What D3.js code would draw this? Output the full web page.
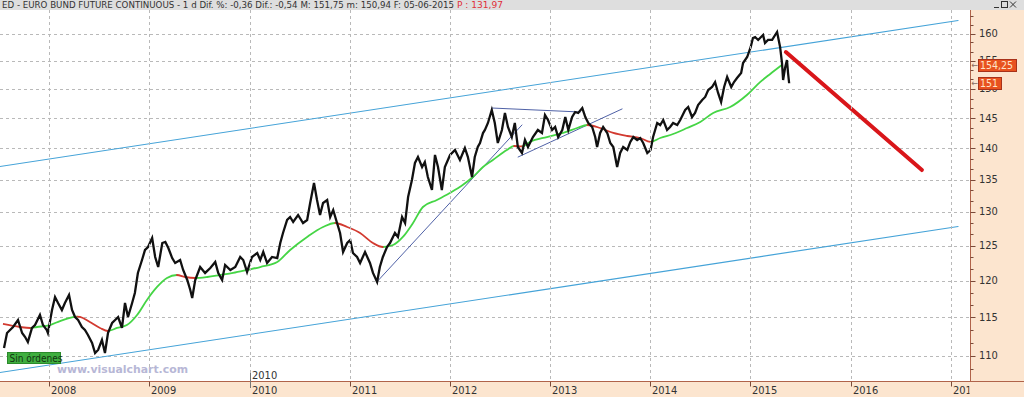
<!DOCTYPE html>
<html>
<head>
<meta charset="utf-8">
<script src="https://cdn.jsdelivr.net/npm/d3@7"></script>
<style>
  body { margin: 0; background: #fff; overflow: hidden; }
  svg { display: block; }
  text { font-family: "Liberation Sans Narrow", "DejaVu Sans Condensed", "Arial Narrow", sans-serif; }
</style>
</head>
<body>
<svg></svg>
<script>
// Daily close of the Bund future
const priceData = [
  ["2007-07-21",110.97],["2007-08-01",112.92],["2007-08-12",113.31],["2007-08-23",113.71],["2007-09-10",114.64],
  ["2007-09-25",112.92],["2007-10-06",112.39],["2007-10-16",111.74],["2007-10-31",113.58],["2007-11-11",113.97],
  ["2007-11-29",115.31],["2007-12-10",113.97],["2007-12-24",113.31],["2007-12-28",112.92],
  ["2008-01-12",115.98],["2008-01-23",117.75],["2008-02-03",116.93],["2008-02-17",115.98],["2008-02-28",116.93],
  ["2008-03-14",118.02],["2008-03-25",115.98],["2008-04-05",115.04],["2008-04-16",114.64],["2008-04-30",113.71],
  ["2008-05-11",113.31],["2008-05-22",112.66],["2008-06-06",111.61],["2008-06-17",110.32],["2008-06-28",110.71],
  ["2008-07-12",112.00],["2008-07-23",110.32],["2008-08-03",112.92],["2008-08-18",114.24],["2008-08-29",114.64],
  ["2008-09-09",115.04],["2008-09-23",113.58],["2008-10-04",116.93],["2008-10-15",115.04],["2008-10-30",116.93],
  ["2008-11-09",118.30],["2008-11-20",121.09],["2008-12-05",122.93],["2008-12-16",124.37],["2008-12-27",124.80],
  ["2009-01-11",126.12],["2009-01-22",123.36],["2009-02-02",121.93],["2009-02-17",125.38],["2009-02-28",125.53],
  ["2009-03-11",124.66],["2009-03-25",123.21],["2009-04-05",122.50],["2009-04-23",122.93],["2009-05-04",121.51],
  ["2009-05-19",120.10],["2009-05-30",118.71],["2009-06-06",117.61],["2009-06-17",120.10],["2009-07-05",121.93],
  ["2009-07-23",121.09],["2009-08-11",121.79],["2009-08-29",122.64],["2009-09-09",121.09],["2009-09-23",120.10],
  ["2009-10-04",122.22],["2009-10-23",121.51],["2009-11-10",121.93],["2009-11-28",123.36],["2009-12-09",122.93],
  ["2009-12-23",121.23],
  ["2010-01-10",123.36],["2010-01-29",123.94],["2010-02-09",122.93],["2010-02-20",124.08],["2010-03-06",122.50],
  ["2010-03-24",123.36],["2010-04-12",123.21],["2010-04-23",125.38],["2010-05-03",126.86],["2010-05-18",128.79],
  ["2010-05-29",129.24],["2010-06-09",128.49],["2010-06-27",129.54],["2010-07-15",128.34],["2010-07-30",128.79],
  ["2010-08-10",131.36],["2010-08-24",134.45],["2010-09-04",131.82],["2010-09-15",129.54],["2010-09-26",131.36],
  ["2010-10-11",131.82],["2010-10-22",129.24],["2010-11-02",130.29],["2010-11-16",128.34],["2010-11-27",126.86],
  ["2010-12-08",124.08],["2010-12-23",125.38],
  ["2011-01-03",125.82],["2011-01-13",123.94],["2011-01-28",123.36],["2011-02-08",122.50],["2011-02-26",124.08],
  ["2011-03-16",122.50],["2011-03-27",121.09],["2011-04-11",119.82],["2011-04-21",121.93],["2011-05-02",123.36],
  ["2011-05-17",124.80],["2011-05-28",125.38],["2011-06-15",126.86],["2011-06-26",126.27],["2011-07-11",129.24],
  ["2011-07-22",128.34],["2011-08-02",132.28],["2011-08-16",134.92],["2011-08-27",137.62],["2011-09-07",138.58],
  ["2011-09-22",136.98],["2011-10-02",137.78],["2011-10-13",135.39],["2011-10-28",133.36],["2011-11-08",138.91],
  ["2011-11-19",136.98],["2011-12-03",133.36],["2011-12-14",136.98],
  ["2012-01-02",138.91],["2012-01-20",139.72],["2012-02-07",138.10],["2012-02-25",140.04],["2012-03-07",138.58],
  ["2012-03-22",135.39],["2012-04-01",138.58],["2012-04-12",140.21],["2012-04-20",140.86],["2012-05-01",142.50],
  ["2012-05-08",143.01],["2012-05-19",144.18],["2012-06-02",146.37],["2012-06-13",144.18],["2012-06-24",140.86],
  ["2012-07-09",143.01],["2012-07-20",145.86],["2012-07-31",143.51],["2012-08-14",141.84],["2012-08-25",144.18],
  ["2012-09-05",140.21],["2012-09-20",139.23],["2012-10-01",141.35],["2012-10-12",140.21],["2012-10-30",141.84],
  ["2012-11-17",143.01],["2012-12-02",142.51],["2012-12-13",145.52],["2012-12-24",144.68],
  ["2013-01-08",143.01],["2013-01-19",143.51],["2013-01-30",141.84],["2013-02-14",143.01],["2013-02-25",145.18],
  ["2013-03-08",143.01],["2013-03-22",145.18],["2013-04-02",146.03],["2013-04-13",145.86],["2013-04-28",146.71],
  ["2013-05-09",145.18],["2013-05-20",144.18],["2013-06-03",143.51],["2013-06-14",141.84],["2013-06-21",140.21],
  ["2013-07-02",142.51],["2013-07-13",143.51],["2013-07-28",142.51],["2013-08-08",140.86],["2013-08-19",140.21],
  ["2013-09-02",136.98],["2013-09-13",139.23],["2013-09-24",140.21],["2013-10-09",139.72],["2013-10-20",141.03],
  ["2013-10-31",141.84],["2013-11-14",141.35],["2013-11-25",141.68],["2013-12-06",140.86],["2013-12-21",139.23],
  ["2014-01-02",139.72],["2014-01-11",141.84],["2014-01-26",144.18],["2014-02-06",143.84],["2014-02-17",144.68],
  ["2014-03-03",143.01],["2014-03-14",143.51],["2014-03-25",144.18],["2014-04-09",143.84],["2014-04-20",144.68],
  ["2014-05-08",146.37],["2014-05-19",146.88],["2014-06-02",145.18],["2014-06-13",145.86],["2014-06-24",147.23],
  ["2014-07-09",148.09],["2014-07-20",148.61],["2014-07-31",149.82],["2014-08-14",150.34],["2014-08-25",151.21],
  ["2014-09-05",149.30],["2014-09-16",147.75],["2014-09-27",150.34],["2014-10-08",152.10],["2014-10-23",150.34],
  ["2014-11-02",151.21],["2014-11-13",151.92],["2014-11-28",152.81],["2014-12-05",154.60],["2014-12-20",155.68],
  ["2015-01-02",157.51],["2015-01-10",159.17],["2015-01-18",159.35],["2015-01-29",158.80],["2015-02-05",159.17],
  ["2015-02-16",159.72],["2015-02-23",158.24],["2015-03-06",158.80],["2015-03-21",158.80],["2015-04-01",159.72],
  ["2015-04-08",160.28],["2015-04-19",157.51],["2015-04-26",154.60],["2015-04-30",151.57],["2015-05-07",153.71],
  ["2015-05-14",155.14],["2015-05-18",152.81],["2015-05-22",151.00]
];

// Moving average (green while rising, red while falling)
const avgData = [
  ["2007-07-17",114.11],["2007-09-17",113.71],["2007-10-24",113.58],["2007-11-18",113.71],["2008-01-05",113.97],
  ["2008-02-10",114.50],["2008-03-25",115.00],["2008-04-12",115.10],["2008-04-23",115.05],["2008-05-29",114.37],
  ["2008-07-05",113.58],["2008-08-03",113.18],["2008-09-05",113.58],["2008-10-11",113.97],["2008-11-17",115.31],
  ["2008-12-23",117.34],["2009-01-29",119.13],["2009-03-06",120.38],["2009-04-11",120.80],["2009-05-11",120.52],
  ["2009-06-17",120.38],["2009-07-31",120.52],["2009-09-16",120.80],["2009-11-02",121.09],["2009-12-23",121.51],
  ["2010-02-09",121.93],["2010-04-12",122.64],["2010-05-29",124.37],["2010-07-30",126.27],["2010-09-26",127.74],
  ["2010-11-09",128.34],["2010-12-23",127.74],["2011-02-08",126.86],["2011-03-27",125.38],["2011-05-02",124.80],
  ["2011-06-08",125.09],["2011-07-14",126.27],["2011-08-20",128.34],["2011-09-25",130.75],["2011-11-15",131.82],
  ["2012-01-01",132.90],["2012-02-17",134.14],["2012-03-25",135.39],["2012-05-01",136.98],["2012-06-06",138.10],
  ["2012-07-27",139.72],["2012-08-22",140.37],["2012-09-20",140.29],["2012-10-19",141.03],["2012-12-20",141.84],
  ["2013-02-17",142.51],["2013-04-09",143.34],["2013-05-16",143.84],["2013-07-02",143.34],["2013-08-19",142.51],
  ["2013-10-09",142.01],["2013-11-25",141.68],["2014-01-01",141.03],["2014-02-06",141.68],["2014-03-25",142.34],
  ["2014-05-15",143.34],["2014-07-02",144.35],["2014-08-18",145.86],["2014-10-19",146.88],["2014-12-20",149.00],
  ["2015-02-05",151.20],["2015-03-13",152.60],["2015-04-26",154.25]
];

// Drawn trend lines: [start date, start price, end date, end price]
const channelLines = [
  ["2007-07-05",137.06,"2017-01-27",162.44],
  ["2007-07-05",107.84,"2017-01-27",127.81]
];
const trendLines = [
  ["2011-04-10",119.83,"2012-09-20",143.84],
  ["2012-06-03",146.71,"2013-04-20",146.03],
  ["2012-09-06",138.58,"2013-09-20",146.55]
];
const forecastLine = ["2015-05-10",156.59,"2016-09-17",136.5];

// Axis values
const priceTicks = [110, 115, 120, 125, 130, 135, 140, 145, 150, 155, 160];
const yearTicks = [2008, 2009, 2010, 2011, 2012, 2013, 2014, 2015, 2016, 2017];
const priceTags = [{ value: 154.25, label: "154,25" }, { value: 151, label: "151" }];

const headerText = "ED - EURO BUND FUTURE CONTINUOUS -  1 d Dif. %: -0,36 Dif.: -0,54 M: 151,75 m: 150,94 F: 05-06-2015";
const headerPrice = "P : 131,97";

// Layout
const width = 1024, height = 397;
const plotRight = 970.5, plotTop = 10, plotBottom = 381.5;

const parse = d3.timeParse("%Y-%m-%d");
const prices = priceData.map(d => ({ date: parse(d[0]), value: d[1] }));
const avg = avgData.map(d => ({ date: parse(d[0]), value: d[1] }));

const x = d3.scaleTime()
    .domain([new Date(2008, 0, 1), new Date(2017, 0, 1)])
    .range([49, 951]);
const y = d3.scaleLog()
    .domain([110, 160])
    .range([355.5, 33.5]);

const svg = d3.select("svg")
    .attr("width", width)
    .attr("height", height);

const defs = svg.append("defs");
defs.append("clipPath").attr("id", "plot-clip")
    .append("rect")
    .attr("x", 0).attr("y", plotTop)
    .attr("width", plotRight).attr("height", plotBottom - plotTop);

// Backgrounds: header strip, right and bottom axis panels
svg.append("rect").attr("width", width).attr("height", height).attr("fill", "#fff");
svg.append("rect").attr("x", 0).attr("y", 0).attr("width", width).attr("height", plotTop).attr("fill", "#dedede");
svg.append("rect").attr("x", plotRight).attr("y", plotTop).attr("width", width - plotRight).attr("height", height - plotTop).attr("fill", "#fce5cf");
svg.append("rect").attr("x", 0).attr("y", plotBottom).attr("width", width).attr("height", height - plotBottom).attr("fill", "#fce5cf");

const plot = svg.append("g").attr("clip-path", "url(#plot-clip)");

// Grid lines
plot.selectAll(".hgrid")
    .data(priceTicks)
    .enter().append("line")
    .attr("x1", 0).attr("x2", plotRight)
    .attr("y1", d => Math.round(y(d)) + 0.5).attr("y2", d => Math.round(y(d)) + 0.5)
    .attr("stroke", "#b9b9b9").attr("stroke-dasharray", "3,3");

svg.selectAll(".vgrid")
    .data(yearTicks)
    .enter().append("line")
    .attr("x1", d => Math.round(x(new Date(d, 0, 1))) + 0.5)
    .attr("x2", d => Math.round(x(new Date(d, 0, 1))) + 0.5)
    .attr("y1", plotTop).attr("y2", plotBottom)
    .attr("stroke", "#b9b9b9").attr("stroke-dasharray", "3,3");

// Straight drawn lines between two (date, price) points
function drawSegment(d, color, w) {
    plot.append("line")
        .attr("x1", x(parse(d[0]))).attr("y1", y(d[1]))
        .attr("x2", x(parse(d[2]))).attr("y2", y(d[3]))
        .attr("stroke", color).attr("stroke-width", w)
        .attr("stroke-linecap", "round");
}
channelLines.forEach(d => drawSegment(d, "#45a3d8", 1.1));
trendLines.forEach(d => drawSegment(d, "#3b4f9c", 0.9));

// Moving average, coloured by direction using clip strips
const rising = [], falling = [];
for (let i = 1; i < avg.length; i++) {
    const seg = [x(avg[i - 1].date), x(avg[i].date)];
    (avg[i].value < avg[i - 1].value ? falling : rising).push(seg);
}
function addStripClip(id, segs) {
    const cp = defs.append("clipPath").attr("id", id);
    segs.forEach(s => cp.append("rect")
        .attr("x", s[0] - 0.5).attr("y", 0)
        .attr("width", s[1] - s[0] + 1).attr("height", height));
}
addStripClip("rise-clip", rising);
addStripClip("fall-clip", falling);

const avgLine = d3.line()
    .x(d => x(d.date))
    .y(d => y(d.value))
    .curve(d3.curveMonotoneX);

plot.append("g").attr("clip-path", "url(#rise-clip)")
    .append("path").datum(avg)
    .attr("d", avgLine).attr("fill", "none")
    .attr("stroke", "#45d545").attr("stroke-width", 1.8);
plot.append("g").attr("clip-path", "url(#fall-clip)")
    .append("path").datum(avg)
    .attr("d", avgLine).attr("fill", "none")
    .attr("stroke", "#d23a30").attr("stroke-width", 1.8);

// Price line
const priceLine = d3.line()
    .x(d => x(d.date))
    .y(d => y(d.value));

plot.append("path").datum(prices)
    .attr("d", priceLine).attr("fill", "none")
    .attr("stroke", "#111").attr("stroke-width", 2.3)
    .attr("stroke-linejoin", "miter");

// Red forecast stroke
drawSegment(forecastLine, "#d9161a", 4);

// Status box and watermark
svg.append("rect")
    .attr("x", 7.5).attr("y", 352.5).attr("width", 53).attr("height", 11)
    .attr("fill", "#3fae3f").attr("stroke", "#2b8a2b");
svg.append("text")
    .attr("x", 9.5).attr("y", 361.5)
    .attr("font-size", 10).attr("fill", "#123312")
    .text("Sin órdenes");
svg.append("text")
    .attr("x", 57).attr("y", 373)
    .attr("font-family", "DejaVu Sans, sans-serif")
    .attr("font-weight", "bold").attr("font-size", 10.5)
    .attr("textLength", 131).attr("lengthAdjust", "spacingAndGlyphs")
    .attr("fill", "#b7b7d6")
    .text("www.visualchart.com");

// Axis lines
svg.append("line")
    .attr("x1", 0).attr("x2", width).attr("y1", plotBottom).attr("y2", plotBottom)
    .attr("stroke", "#b0634a");
svg.append("line")
    .attr("x1", plotRight).attr("x2", plotRight).attr("y1", plotTop).attr("y2", plotBottom)
    .attr("stroke", "#b0634a");

// Right price axis: minor ticks, major ticks, labels
const minorTicks = [];
for (let i = 0; i < priceTicks.length; i++) {
    const a = priceTicks[i], b = priceTicks[i + 1] || a + 5;
    minorTicks.push(a + (b - a) / 3, a + 2 * (b - a) / 3);
}
minorTicks.push(110 - 5 / 3, 110 - 10 / 3);

const yAxis = svg.append("g");
yAxis.selectAll(".minor")
    .data(minorTicks.filter(v => y(v) > plotTop && y(v) < plotBottom))
    .enter().append("line")
    .attr("x1", plotRight).attr("x2", plotRight + 3)
    .attr("y1", d => Math.round(y(d)) + 0.5).attr("y2", d => Math.round(y(d)) + 0.5)
    .attr("stroke", "#7a4a3a");
yAxis.selectAll(".major")
    .data(priceTicks)
    .enter().append("line")
    .attr("x1", plotRight).attr("x2", plotRight + 5)
    .attr("y1", d => Math.round(y(d)) + 0.5).attr("y2", d => Math.round(y(d)) + 0.5)
    .attr("stroke", "#7a4a3a");
yAxis.selectAll(".label")
    .data(priceTicks)
    .enter().append("text")
    .attr("x", 979).attr("y", d => y(d) + 3.5)
    .attr("font-size", 11).attr("fill", "#333")
    .text(d => d);

// Last value tags on the price axis, box sized to its text
priceTags.forEach(t => {
    const ty = Math.round(y(t.value));
    svg.append("text")
        .attr("x", 971.5).attr("y", ty + 3)
        .attr("font-size", 9).attr("fill", "#8a6a60")
        .text("←");
    const tag = svg.append("g");
    const box = tag.append("rect");
    const label = tag.append("text")
        .attr("x", 980).attr("y", ty + 4)
        .attr("font-size", 10.5).attr("fill", "#ffe3c8")
        .text(t.label);
    const w = Math.ceil(label.node().getComputedTextLength()) + 4;
    box.attr("x", 978.5).attr("y", ty - 5.5).attr("width", w).attr("height", 12)
        .attr("fill", "#e8521f").attr("stroke", "#a8321a");
});

// Bottom time axis
defs.append("clipPath").attr("id", "xaxis-clip")
    .append("rect").attr("x", 0).attr("y", plotBottom).attr("width", plotRight - 1).attr("height", height - plotBottom);
const xAxis = svg.append("g").attr("clip-path", "url(#xaxis-clip)");
xAxis.selectAll(".tick")
    .data(yearTicks)
    .enter().append("line")
    .attr("x1", d => Math.round(x(new Date(d, 0, 1))) + 0.5)
    .attr("x2", d => Math.round(x(new Date(d, 0, 1))) + 0.5)
    .attr("y1", plotBottom).attr("y2", plotBottom + 5)
    .attr("stroke", "#7a4a3a");
xAxis.selectAll(".label")
    .data(yearTicks)
    .enter().append("text")
    .attr("x", d => Math.round(x(new Date(d, 0, 1))) + 2)
    .attr("y", 393.5)
    .attr("font-size", 11).attr("fill", "#333")
    .text(d => d);

// Cursor marker on 2010
const cx = Math.round(x(new Date(2010, 0, 1))) + 0.5;
svg.append("line")
    .attr("x1", cx).attr("x2", cx).attr("y1", 373).attr("y2", 388)
    .attr("stroke", "#777");
svg.append("text")
    .attr("x", cx + 1.5).attr("y", 378.5)
    .attr("font-size", 11).attr("fill", "#333")
    .text("2010");

// Header text
svg.append("text")
    .attr("x", 2).attr("y", 8)
    .attr("font-size", 9.5).attr("fill", "#333")
    .attr("textLength", 452).attr("lengthAdjust", "spacingAndGlyphs")
    .text(headerText);
svg.append("text")
    .attr("x", 457).attr("y", 8)
    .attr("font-size", 9.5).attr("fill", "#e0303a")
    .attr("textLength", 46).attr("lengthAdjust", "spacingAndGlyphs")
    .text(headerPrice);

// Window buttons in the corner
const btn = svg.append("g").attr("stroke", "#333").attr("fill", "none");
btn.append("line").attr("x1", 994).attr("x2", 999).attr("y1", 7.5).attr("y2", 7.5);
btn.append("rect").attr("x", 1001.5).attr("y", 1.5).attr("width", 6).attr("height", 6);
btn.append("line").attr("x1", 1010).attr("x2", 1016).attr("y1", 1.5).attr("y2", 7.5);
btn.append("line").attr("x1", 1016).attr("x2", 1010).attr("y1", 1.5).attr("y2", 7.5);
</script>
</body>
</html>
